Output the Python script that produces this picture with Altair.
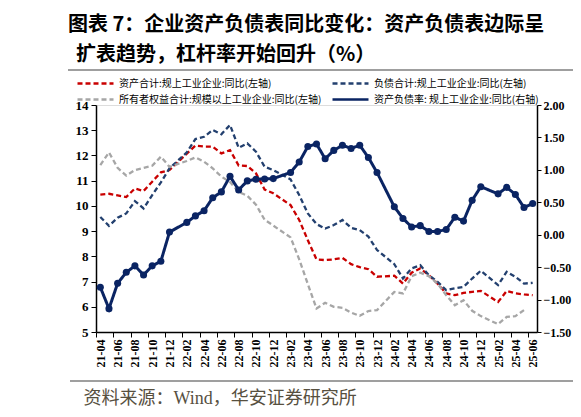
import altair as alt
import pandas as pd

months = ["21-04","21-05","21-06","21-07","21-08","21-09","21-10","21-11","21-12",
          "22-01","22-02","22-03","22-04","22-05","22-06","22-07","22-08","22-09","22-10","22-11","22-12",
          "23-01","23-02","23-03","23-04","23-05","23-06","23-07","23-08","23-09","23-10","23-11","23-12",
          "24-01","24-02","24-03","24-04","24-05","24-06","24-07","24-08","24-09","24-10","24-11","24-12",
          "25-01","25-02","25-03","25-04","25-05","25-06"]

assets = [10.45,10.48,10.42,10.35,10.69,10.59,10.96,11.33,11.42,None,
          12.07,12.39,12.35,12.35,12.08,12.21,11.6,11.58,11.29,10.65,10.50,None,
          10.03,9.44,8.64,7.88,7.85,7.88,7.94,7.69,7.57,7.49,7.19,None,
          7.23,6.92,7.35,7.52,7.25,6.92,6.53,6.46,6.55,6.59,6.63,None,
          6.19,6.63,6.53,6.49,6.46]
liabilities = [9.56,9.21,9.53,9.70,10.19,9.90,10.43,10.93,11.49,None,
               12.12,12.65,12.74,13.01,12.84,13.21,12.3,12.48,12.15,11.55,11.42,None,
               11.05,10.43,9.7,9.28,9.1,9.24,9.44,9.13,9.04,8.78,8.25,None,
               7.69,7.12,7.52,7.65,7.25,6.99,6.66,6.73,6.79,7.12,7.43,None,
               6.86,7.39,7.19,6.92,6.95]
equity = [11.62,12.12,11.51,11.20,11.42,11.51,11.59,11.95,11.55,None,
          11.78,11.92,11.75,11.49,11.16,10.95,10.55,10.4,10.05,9.45,9.22,None,
          8.75,7.88,6.9,5.93,6.16,6.0,5.96,5.77,5.64,5.83,5.87,None,
          6.59,6.53,7.21,7.35,7.21,6.92,6.46,6.06,6.26,5.84,5.63,None,
          5.31,5.60,5.63,5.87,None]
ratio = [-0.81,-1.14,-0.75,-0.58,-0.48,-0.62,-0.48,-0.41,0.04,None,
         0.19,0.29,0.37,0.57,0.66,0.90,0.69,0.83,0.855,0.86,0.865,None,
         0.96,1.12,1.36,1.40,1.17,1.30,1.38,1.33,1.38,1.19,0.96,None,
         0.43,0.25,0.12,0.14,0.05,0.05,0.08,0.27,0.21,0.53,0.74,None,
         0.63,0.73,0.62,0.42,0.48]

names = ["资产合计:规上工业企业:同比(左轴)",
         "负债合计:规上工业企业:同比(左轴)",
         "所有者权益合计:规模以上工业企业:同比(左轴)",
         "资产负债率: 规上工业企业:同比(右轴)"]
colors = ["#c90000", "#23406f", "#a6a6a6", "#0a2463"]
dashes = [[5, 3], [5, 3], [5, 3], [1, 0]]

left_ticks = [5, 6, 7, 8, 9, 10, 11, 12, 13, 14]
right_ticks = [-1.5, -1.0, -0.5, 0.0, 0.5, 1.0, 1.5, 2.0]
x_labels = months[::2]

title_lines = ["图表 7：企业资产负债表同比变化：资产负债表边际呈",
               "扩表趋势，杠杆率开始回升（%）"]
source_text = "资料来源：Wind，华安证券研究所"

rows = []
for name, vals in zip(names[:3], [assets, liabilities, equity]):
    for m, v in zip(months, vals):
        if v is not None:
            rows.append({"month": m, "series": name, "value": v})
left_df = pd.DataFrame(rows)
right_df = pd.DataFrame([{"month": m, "series": names[3], "value": v}
                         for m, v in zip(months, ratio) if v is not None])

W, H = 441, 227
step = W / len(months)

serif = "Liberation Serif"
cjk = "Noto Sans CJK SC"

x_enc = alt.X("month:O",
              scale=alt.Scale(domain=months, type="point", padding=0.5),
              axis=alt.Axis(values=x_labels, labelAngle=270, labelFont=serif,
                            labelFontWeight="bold", labelFontSize=12, labelColor="black",
                            tickOffset=-step / 2, labelOffset=step / 2,
                            tickSize=5, tickColor="black", domainColor="black",
                            domainWidth=1.5, tickWidth=1, labelPadding=2,
                            title=source_text, titleFont=serif + ", " + cjk,
                            titleFontSize=18, titleFontWeight="normal",
                            titleColor="#57503f", titleAlign="left",
                            titleBaseline="middle", titleX=-13, titleY=66,
                            titleAngle=0))

color_enc = alt.Color("series:N", scale=alt.Scale(domain=names, range=colors),
                      legend=alt.Legend(orient="none", legendX=-20, legendY=-28,
                                        direction="horizontal",
                                        columns=2, title=None, symbolType="stroke",
                                        symbolSize=1296, symbolStrokeWidth=2.5,
                                        labelFont=cjk, labelFontSize=10,
                                        labelColor="black", labelLimit=0,
                                        columnPadding=9, rowPadding=3,
                                        clipHeight=13, symbolOffset=0,
                                        labelOffset=4))
dash_enc = alt.StrokeDash("series:N", scale=alt.Scale(domain=names, range=dashes),
                          legend=None)

left = alt.Chart(left_df).mark_line(strokeWidth=2.3).encode(
    x=x_enc,
    y=alt.Y("value:Q", scale=alt.Scale(domain=[5, 14], nice=False, zero=False),
            axis=alt.Axis(values=left_ticks, orient="left", grid=False, title=None,
                          labelFont=serif, labelFontWeight="bold", labelFontSize=13,
                          labelColor="black", tickSize=5, tickColor="black",
                          domainColor="black", domainWidth=1.5, labelPadding=3)),
    color=color_enc,
    strokeDash=dash_enc,
)

right = alt.Chart(right_df).mark_line(
    strokeWidth=3,
    point=alt.OverlayMarkDef(filled=True, size=50, color="#0a2463")).encode(
    x=x_enc,
    y=alt.Y("value:Q", scale=alt.Scale(domain=[-1.5, 2.0], nice=False, zero=False),
            axis=alt.Axis(values=right_ticks, orient="right", grid=False, title=None,
                          format=".2f", labelFont=serif, labelFontWeight="bold",
                          labelFontSize=12, labelColor="black", tickSize=4,
                          tickColor="black", domainColor="black", domainWidth=1.5,
                          labelPadding=2)),
    color=color_enc,
    strokeDash=dash_enc,
)

one = alt.Data(values=[{"k": 1}])
rule_top = alt.Chart(one).mark_rule(color="#7f7f7f", strokeWidth=1.5).encode(
    x=alt.value(-28), x2=alt.value(490), y=alt.value(-35))
rule_bottom = alt.Chart(one).mark_rule(color="#7f7f7f", strokeWidth=1.5).encode(
    x=alt.value(-26), x2=alt.value(490), y=alt.value(276))
title1 = alt.Chart(one).mark_text(
    text=title_lines[0], align="left", baseline="middle", font=cjk,
    fontSize=20, fontWeight="bold", color="black").encode(
    x=alt.value(-28), y=alt.value(-80))
title2 = alt.Chart(one).mark_text(
    text=title_lines[1], align="left", baseline="middle", font=cjk,
    fontSize=20, fontWeight="bold", color="black").encode(
    x=alt.value(-20), y=alt.value(-50))

chart = alt.layer(left, right, rule_top, rule_bottom, title1, title2).resolve_scale(
    y="independent"
).properties(
    width=W, height=H,
    autosize=alt.AutoSizeParams(type="none"),
    padding={"left": 88, "top": 97, "right": 36, "bottom": 77},
).configure_view(stroke=None).configure(background="white")

chart.save("out.html", embed_options={"renderer": "svg", "actions": False})
